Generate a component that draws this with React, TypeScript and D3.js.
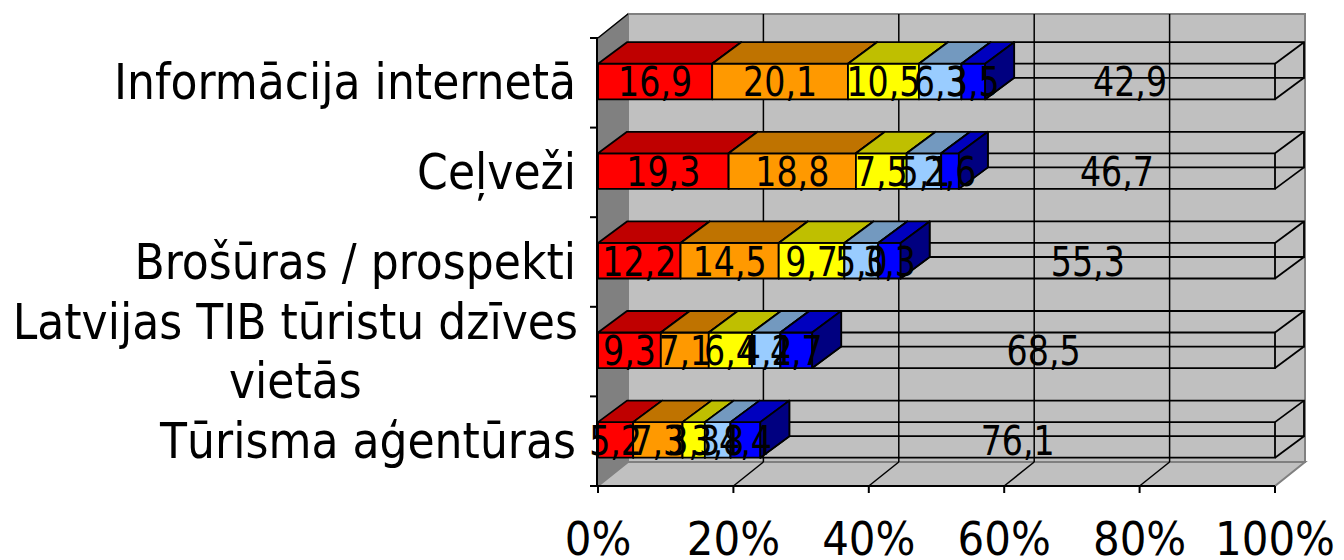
import React, { useEffect, useRef } from 'react';
import * as d3 from 'd3';

// ---- data ----
const categories = [
  'Informācija internetā',
  'Ceļveži',
  'Brošūras / prospekti',
  'Latvijas TIB tūristu dzīves vietās',
  'Tūrisma aģentūras',
];
const categoryLines = [
  ['Informācija internetā'],
  ['Ceļveži'],
  ['Brošūras / prospekti'],
  ['Latvijas TIB tūristu dzīves', 'vietās'],
  ['Tūrisma aģentūras'],
];
const series1 = [16.9, 19.3, 12.2, 9.3, 5.2];
const series2 = [20.1, 18.8, 14.5, 7.1, 7.3];
const series3 = [10.5, 7.5, 9.7, 6.4, 3.3];
const series4 = [6.3, 5.1, 5.0, 4.2, 3.8];
const series5 = [3.5, 2.6, 3.3, 4.7, 4.4];
const series6 = [42.9, 46.7, 55.3, 68.5, 76.1];
const seriesKeys = ['s1', 's2', 's3', 's4', 's5', 's6'];
const seriesValues = [series1, series2, series3, series4, series5, series6];
const seriesColors = ['#FF0000', '#FF9900', '#FFFF00', '#99CCFF', '#0000FF', null];
const tickValues = [0, 20, 40, 60, 80, 100];
const tickLabels = ['0%', '20%', '40%', '60%', '80%', '100%'];

const W = 1344;
const H = 560;

function shade(c: string, k: number) {
  const col = d3.rgb(c);
  return d3.rgb(col.r * k, col.g * k, col.b * k).formatHex();
}

export default function App() {
  const ref = useRef<SVGSVGElement>(null);
  useEffect(() => {
    const svg = d3.select(ref.current);
    svg.selectAll('*').remove();
    const font = "'DejaVu Sans Condensed', 'DejaVu Sans', sans-serif";

    // layout
    const left = 598, right = 1275, top = 38, bottom = 486;
    const wdx = 30, wdy = -24; // wall depth
    const bdx = 29, bdy = -21.5; // bar depth

    const x = d3.scaleLinear().domain([0, 1]).range([left, right]);
    const xPct = d3.scaleLinear().domain([0, 100]).range([left, right]);
    const y = d3.scaleBand<string>().domain(categories).range([top, bottom]);
    const bw = y.bandwidth();

    const table = categories.map((c, i) => {
      const row: any = { cat: c };
      seriesKeys.forEach((k, j) => (row[k] = seriesValues[j][i]));
      return row;
    });
    const stacked = d3.stack().keys(seriesKeys).offset(d3.stackOffsetExpand)(table as any);

    // probes for font width fitting
    const measure = (t: string, fs: number) => {
      const p = svg.append('text').attr('font-family', font).attr('font-size', fs).text(t);
      const w = (p.node() as SVGTextElement).getComputedTextLength();
      p.remove();
      return w;
    };
    const catFs = 49, dataFs = 41, axFs = 47;
    const catSx = 462 / measure(categories[0], catFs);
    const dataSx = 74 / measure('16,9', dataFs);
    const axSx = 120 / measure('100%', axFs);

    const poly = (pts: number[][]) => 'M' + pts.map((p) => p.join(',')).join('L') + 'Z';

    // left wall
    svg.append('path')
      .attr('d', poly([[left, top], [left + wdx, top + wdy], [left + wdx, bottom + wdy], [left, bottom]]))
      .attr('fill', '#808080').attr('stroke', '#808080').attr('stroke-width', 1.5);
    // back wall
    svg.append('rect')
      .attr('x', left + wdx).attr('y', top + wdy)
      .attr('width', right - left).attr('height', bottom - top)
      .attr('fill', '#C0C0C0').attr('stroke', '#808080').attr('stroke-width', 2);
    // floor
    svg.append('path')
      .attr('d', poly([[left, bottom], [right, bottom], [right + wdx, bottom + wdy], [left + wdx, bottom + wdy]]))
      .attr('fill', '#C0C0C0').attr('stroke', '#808080').attr('stroke-width', 2);
    // left wall top edge
    svg.append('line')
      .attr('x1', left).attr('y1', top).attr('x2', left + wdx).attr('y2', top + wdy)
      .attr('stroke', '#000').attr('stroke-width', 1.5);

    // gridlines
    const inner = tickValues.filter((v) => v > 0 && v < 100);
    svg.append('g').selectAll('line').data(inner).join('line')
      .attr('x1', (d) => xPct(d) + wdx).attr('x2', (d) => xPct(d) + wdx)
      .attr('y1', top + wdy).attr('y2', bottom + wdy)
      .attr('stroke', '#000').attr('stroke-width', 1.5);
    svg.append('g').selectAll('line').data(inner).join('line')
      .attr('x1', (d) => xPct(d)).attr('x2', (d) => xPct(d) + wdx)
      .attr('y1', bottom).attr('y2', bottom + wdy)
      .attr('stroke', '#000').attr('stroke-width', 1.5);

    // bars
    const barsG = svg.append('g');
    categories.forEach((c, ci) => {
      const y0 = (y(c) as number) + bw * 0.287;
      const y1 = y0 + bw * 0.397;
      // remainder wireframe
      const rs = stacked[5][ci];
      const xa = x(rs[0]), xb = x(rs[1]);
      const wf = barsG.append('g').attr('fill', 'none').attr('stroke', '#000').attr('stroke-width', 1.8);
      wf.append('path').attr('d', poly([[xa, y0], [xb, y0], [xb, y1], [xa, y1]]));
      wf.append('path').attr('d', poly([[xa + bdx, y0 + bdy], [xb + bdx, y0 + bdy], [xb + bdx, y1 + bdy], [xa + bdx, y1 + bdy]]));
      [[xa, y0], [xb, y0], [xb, y1], [xa, y1]].forEach(([px, py]) => {
        wf.append('line').attr('x1', px).attr('y1', py).attr('x2', px + bdx).attr('y2', py + bdy);
      });
      // colored boxes
      for (let si = 0; si < 5; si++) {
        const s = stacked[si][ci];
        const a = x(s[0]), b = x(s[1]);
        const col = seriesColors[si] as string;
        const g = barsG.append('g').attr('stroke', '#000').attr('stroke-width', 1.8).attr('stroke-linejoin', 'round');
        g.append('path').attr('d', poly([[a, y0], [b, y0], [b, y1], [a, y1]])).attr('fill', col);
        g.append('path').attr('d', poly([[a, y0], [a + bdx, y0 + bdy], [b + bdx, y0 + bdy], [b, y0]])).attr('fill', shade(col, 0.75));
        g.append('path').attr('d', poly([[b, y0], [b + bdx, y0 + bdy], [b + bdx, y1 + bdy], [b, y1]])).attr('fill', shade(col, 0.5));
      }
    });

    // data labels
    const fmt = (v: number) => d3.format('.1f')(v).replace('.', ',');
    const labelsG = svg.append('g').attr('font-family', font).attr('font-size', dataFs).attr('fill', '#000');
    categories.forEach((c, ci) => {
      const y0 = (y(c) as number) + bw * 0.287;
      const yc = y0 + (bw * 0.397) / 2;
      for (let si = 0; si < 6; si++) {
        const s = stacked[si][ci];
        const cx = (x(s[0]) + x(s[1])) / 2;
        labelsG.append('text')
          .attr('text-anchor', 'middle')
          .attr('transform', `translate(${cx},${yc + dataFs * 0.364}) scale(${dataSx},1)`)
          .text(fmt(seriesValues[si][ci]));
      }
    });

    // category axis
    svg.append('line').attr('x1', left - 1).attr('x2', left - 1).attr('y1', top).attr('y2', bottom)
      .attr('stroke', '#000').attr('stroke-width', 2);
    const bounds = categories.map((c) => y(c) as number).concat([bottom]);
    svg.append('g').selectAll('line').data(bounds).join('line')
      .attr('x1', left - 8).attr('x2', left).attr('y1', (d) => d).attr('y2', (d) => d)
      .attr('stroke', '#000').attr('stroke-width', 2);

    const catG = svg.append('g').attr('font-family', font).attr('font-size', catFs).attr('fill', '#000');
    const lineGap = 59;
    categories.forEach((c, ci) => {
      const lines = categoryLines[ci];
      const yc = (y(c) as number) + bw * 0.287 + (bw * 0.397) / 2;
      if (lines.length === 1) {
        catG.append('text').attr('text-anchor', 'end')
          .attr('transform', `translate(576,${yc + catFs * 0.364}) scale(${catSx},1)`)
          .text(lines[0]);
      } else {
        const w1 = measure(lines[0], catFs) * catSx;
        const rx = 578;
        const cx = rx - w1 / 2;
        lines.forEach((ln, li) => {
          const ly = yc + (li - (lines.length - 1) / 2) * lineGap + catFs * 0.364;
          catG.append('text').attr('text-anchor', 'middle')
            .attr('transform', `translate(${cx},${ly}) scale(${catSx},1)`)
            .text(ln);
        });
      }
    });

    // value axis
    svg.append('line').attr('x1', left - 1).attr('x2', right).attr('y1', bottom).attr('y2', bottom)
      .attr('stroke', '#000').attr('stroke-width', 2);
    svg.append('g').selectAll('line').data(tickValues).join('line')
      .attr('x1', (d) => xPct(d)).attr('x2', (d) => xPct(d)).attr('y1', bottom).attr('y2', bottom + 7)
      .attr('stroke', '#000').attr('stroke-width', 2);
    const axG = svg.append('g').attr('font-family', font).attr('font-size', axFs).attr('fill', '#000');
    tickValues.forEach((v, i) => {
      axG.append('text').attr('text-anchor', 'middle')
        .attr('transform', `translate(${xPct(v)},555) scale(${axSx},1)`)
        .text(tickLabels[i]);
    });
  }, []);
  return (
    <svg ref={ref} width={W} height={H} style={{ position: 'absolute', left: 0, top: 0, background: '#fff' }} />
  );
}
